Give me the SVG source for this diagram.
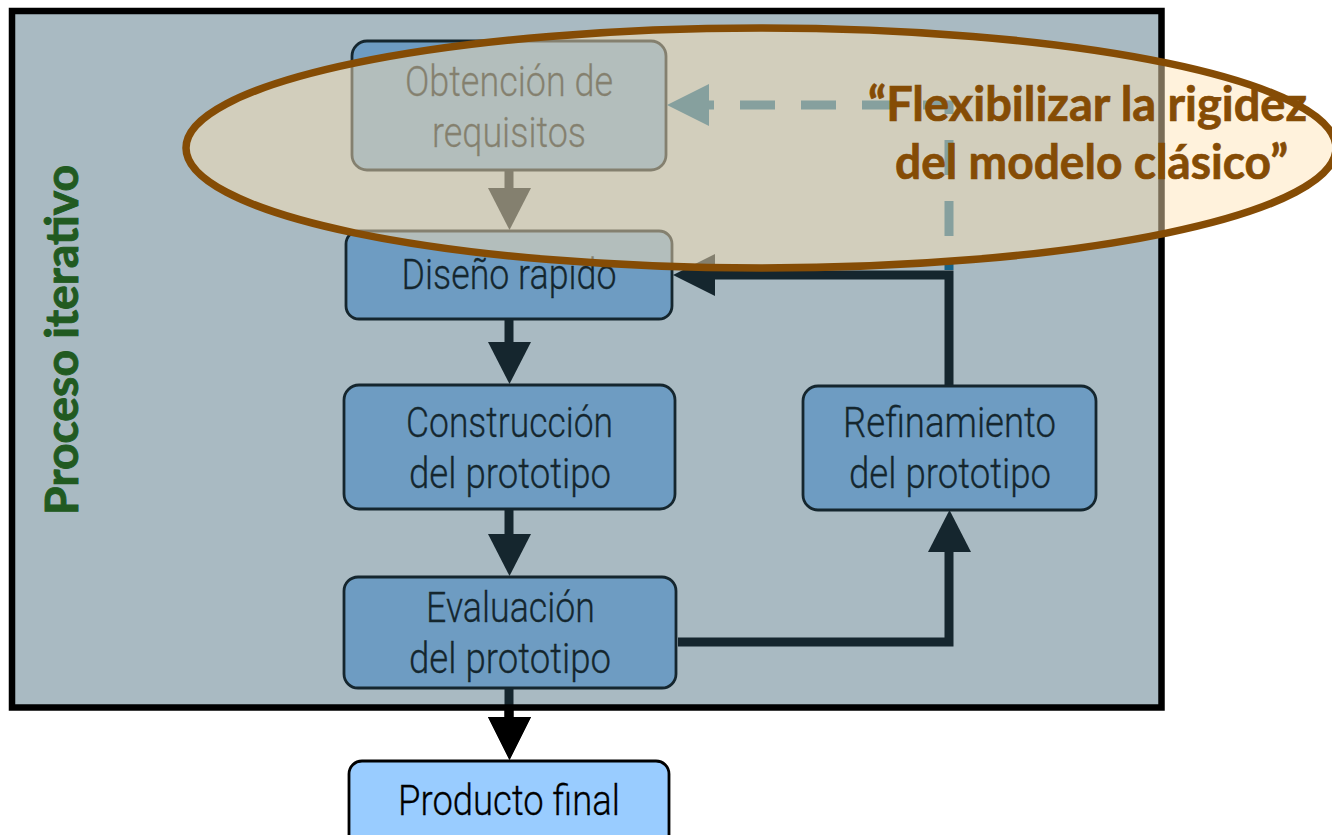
<svg xmlns="http://www.w3.org/2000/svg" width="1332" height="835" viewBox="0 0 1332 835">
<style>
.box{fill:#99ccff;stroke:#000;stroke-width:2.800}
.t{font-family:Roboto,"Liberation Sans",sans-serif;font-weight:300;font-size:43px;fill:#000;stroke:#000;stroke-width:.3;text-anchor:middle}
.b{font-family:Lato,"Liberation Sans",sans-serif;font-weight:700}
.line{fill:none;stroke:#000;stroke-width:9}
.dash{fill:none;stroke:#176388;stroke-width:9;stroke-dasharray:35 26;stroke-dashoffset:27}
</style>
<rect width="1332" height="835" fill="#fff"/>
<g id="connectors">
<path class="line" d="M509 170V190"/><polygon points="488,188 531,188 509.500,230"/>
<path class="line" d="M509 319V344"/><polygon points="488,342 531,342 509.500,384"/>
<path class="line" d="M509 509V536"/><polygon points="488,534 531,534 509.500,576"/>
<path class="line" d="M509 688V720"/><polygon points="488,717 531,717 509.500,760"/>
<path class="line" d="M678 642H949V549"/><polygon points="928,552 971,552 949.500,510"/>
<path class="line" d="M949 385V275H713"/><polygon points="715,254 715,296 673,275"/>
</g>
<g id="obtencion"><rect class="box" x="352" y="41" width="314" height="129" rx="15"/>
<text class="t" x="509" y="96" textLength="208" lengthAdjust="spacingAndGlyphs">Obtención de</text>
<text class="t" x="509" y="147" textLength="154" lengthAdjust="spacingAndGlyphs">requisitos</text></g>
<g id="diseno"><rect class="box" x="346" y="231" width="326" height="88" rx="13"/>
<text class="t" x="509" y="289" textLength="215" lengthAdjust="spacingAndGlyphs">Diseño rapido</text></g>
<g id="construccion"><rect class="box" x="344" y="385" width="331" height="124" rx="15"/>
<text class="t" x="509.500" y="437" textLength="207" lengthAdjust="spacingAndGlyphs">Construcción</text>
<text class="t" x="510" y="488" textLength="202" lengthAdjust="spacingAndGlyphs">del prototipo</text></g>
<g id="refinamiento"><rect class="box" x="803" y="386" width="293" height="124" rx="15"/>
<text class="t" x="949.500" y="437" textLength="213" lengthAdjust="spacingAndGlyphs">Refinamiento</text>
<text class="t" x="950" y="488" textLength="202" lengthAdjust="spacingAndGlyphs">del prototipo</text></g>
<g id="evaluacion"><rect class="box" x="344" y="577" width="332" height="111" rx="14"/>
<text class="t" x="510.500" y="622" textLength="169" lengthAdjust="spacingAndGlyphs">Evaluación</text>
<text class="t" x="510" y="673" textLength="202" lengthAdjust="spacingAndGlyphs">del prototipo</text></g>
<g id="overlay"><rect x="12" y="11" width="1149.500" height="696.500" fill="#325b6e" fill-opacity=".42" stroke="#000" stroke-width="6.500"/></g>
<path class="dash" d="M949 270V105H680"/>
<polygon points="709,84 709,126 667,105" fill="#176388"/>
<g id="producto"><rect class="box" x="349" y="761" width="320" height="90" rx="13"/>
<text class="t" x="509" y="815" textLength="222" lengthAdjust="spacingAndGlyphs">Producto final</text></g>
<path class="line" d="M509 708V720"/><polygon points="488,717 531,717 509.500,760"/>
<g id="iterativo"><text class="b" transform="translate(78 515) rotate(-90)" font-size="46" fill="#215a21" stroke="#215a21" stroke-width=".9" textLength="350" lengthAdjust="spacingAndGlyphs">Proceso iterativo</text></g>
<g id="nota"><ellipse cx="761" cy="148" rx="575" ry="120" fill="#ffe4b6" fill-opacity=".48" stroke="#854c05" stroke-width="7.500"/>
<text class="b" x="868" y="121" font-size="48" fill="#854c05" stroke="#854c05" stroke-width=".7" textLength="439" lengthAdjust="spacingAndGlyphs">“Flexibilizar la rigidez</text>
<text class="b" x="895" y="179" font-size="48" fill="#854c05" stroke="#854c05" stroke-width=".7" textLength="393" lengthAdjust="spacingAndGlyphs">del modelo clásico”</text></g>
</svg>
